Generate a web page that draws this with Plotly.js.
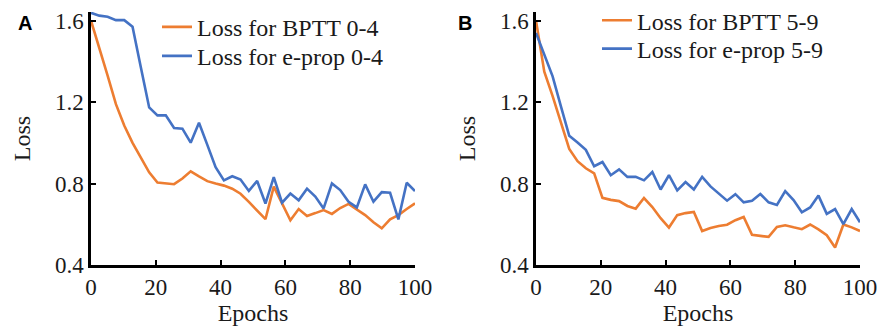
<!DOCTYPE html>
<html>
<head>
<meta charset="utf-8">
<script src="https://cdn.plot.ly/plotly-3.0.1.min.js"></script>
<style>html,body{margin:0;padding:0;background:#fff;}#chart{width:879px;height:334px;}</style>
</head>
<body>
<div id="chart"></div>
<script>
// Epoch values at which the losses were recorded (40 evaluation points, 0..100)
const epochs = [0, 2.56, 5.13, 7.69, 10.26, 12.82, 15.38, 17.95, 20.51, 23.08,
  25.64, 28.21, 30.77, 33.33, 35.90, 38.46, 41.03, 43.59, 46.15, 48.72,
  51.28, 53.85, 56.41, 58.97, 61.54, 64.10, 66.67, 69.23, 71.79, 74.36,
  76.92, 79.49, 82.05, 84.62, 87.18, 89.74, 92.31, 94.87, 97.44, 100];

// Panel A (digits 0-4)
const bpttA = [1.60, 1.47, 1.33, 1.19, 1.085, 1.00, 0.93, 0.855, 0.805, 0.80,
  0.797, 0.825, 0.86, 0.835, 0.812, 0.80, 0.79, 0.775, 0.75, 0.71,
  0.665, 0.625, 0.785, 0.70, 0.62, 0.675, 0.641, 0.655, 0.670, 0.651,
  0.68, 0.70, 0.673, 0.645, 0.61, 0.58, 0.624, 0.645, 0.675, 0.703];
const epropA = [1.639, 1.625, 1.620, 1.603, 1.603, 1.571, 1.372, 1.174, 1.135, 1.135,
  1.073, 1.070, 1.001, 1.099, 0.99, 0.881, 0.816, 0.836, 0.820, 0.764,
  0.813, 0.702, 0.832, 0.706, 0.751, 0.718, 0.775, 0.736, 0.678, 0.801,
  0.768, 0.711, 0.683, 0.796, 0.711, 0.758, 0.755, 0.624, 0.804, 0.763];

// Panel B (digits 5-9)
const bpttB = [1.60, 1.35, 1.23, 1.10, 0.97, 0.91, 0.875, 0.85, 0.73, 0.72,
  0.714, 0.69, 0.677, 0.729, 0.685, 0.63, 0.584, 0.645, 0.655, 0.661,
  0.567, 0.582, 0.592, 0.598, 0.62, 0.636, 0.548, 0.543, 0.538, 0.587,
  0.595, 0.585, 0.576, 0.599, 0.575, 0.546, 0.486, 0.599, 0.585, 0.567];
const epropB = [1.54, 1.433, 1.327, 1.179, 1.035, 1.002, 0.966, 0.885, 0.906, 0.841,
  0.870, 0.833, 0.833, 0.816, 0.857, 0.771, 0.841, 0.767, 0.808, 0.771,
  0.833, 0.786, 0.752, 0.716, 0.748, 0.708, 0.716, 0.749, 0.708, 0.695,
  0.763, 0.719, 0.659, 0.683, 0.741, 0.651, 0.675, 0.601, 0.675, 0.610];

const names = ['Loss for BPTT 0-4', 'Loss for e-prop 0-4', 'Loss for BPTT 5-9', 'Loss for e-prop 5-9'];
const yTicks = [0.4, 0.8, 1.2, 1.6];
const xTicks = [0, 20, 40, 60, 80, 100];

const ORANGE = '#ED7D31', BLUE = '#4472C4';
const SERIF = 'Liberation Serif, Times New Roman, serif';
const SANS = 'Liberation Sans, Arial, sans-serif';
const TXT = '#1a1a1a';

const traces = [
  {x: epochs, y: bpttA, name: names[0], xaxis: 'x', yaxis: 'y', legend: 'legend', line: {color: ORANGE, width: 2.6}},
  {x: epochs, y: epropA, name: names[1], xaxis: 'x', yaxis: 'y', legend: 'legend2', line: {color: BLUE, width: 2.6}},
  {x: epochs, y: bpttB, name: names[2], xaxis: 'x2', yaxis: 'y2', legend: 'legend3', line: {color: ORANGE, width: 2.6}},
  {x: epochs, y: epropB, name: names[3], xaxis: 'x2', yaxis: 'y2', legend: 'legend4', line: {color: BLUE, width: 2.6}}
].map(t => Object.assign({type: 'scatter', mode: 'lines', showlegend: true}, t));

const W = 879, H = 334, ML = 91, MR = 19, MT = 12, MB = 69;
const PW = W - ML - MR, PH = H - MT - MB;
const px = v => (v - ML) / PW;
const py = v => 1 - (v - MT) / PH;

function xa(domain, anchor) {
  return {domain: domain, anchor: anchor, range: [0, 100], tickvals: xTicks,
    showline: true, linecolor: '#000', linewidth: 2.6, ticks: 'inside', ticklen: 5, tickwidth: 2, tickcolor: '#000',
    showgrid: false, zeroline: false, tickfont: {family: SERIF, size: 23, color: TXT},
    title: {text: 'Epochs', font: {family: SERIF, size: 24, color: TXT}, standoff: 2}};
}
function ya(anchor) {
  return {domain: [0, 1], anchor: anchor, range: [0.4, 1.643], tickvals: yTicks, tickformat: '.1f',
    showline: true, linecolor: '#000', linewidth: 2.6, ticks: 'inside', ticklen: 5, tickwidth: 2, tickcolor: '#000',
    showgrid: false, zeroline: false, tickfont: {family: SERIF, size: 23, color: TXT},
    title: {text: 'Loss', font: {family: SERIF, size: 24, color: TXT}, standoff: 18}};
}
function leg(xp, yp) {
  return {x: px(xp), y: py(yp), xanchor: 'left', yanchor: 'middle', bgcolor: 'rgba(0,0,0,0)',
    font: {family: SERIF, size: 24, color: TXT}, borderwidth: 0};
}

const layout = {
  width: W, height: H, margin: {l: ML, r: MR, t: MT, b: MB, autoexpand: false},
  font: {family: SERIF, size: 24, color: TXT},
  paper_bgcolor: '#fff', plot_bgcolor: '#fff',
  xaxis: xa([0, px(415)], 'y'),
  yaxis: ya('x'),
  xaxis2: xa([px(536), 1], 'y2'),
  yaxis2: ya('x2'),
  legend: leg(157, 27.3),
  legend2: leg(157, 56.3),
  legend3: leg(597, 20.7),
  legend4: leg(597, 49),
  annotations: [
    {text: '<b>A</b>', xref: 'paper', yref: 'paper', x: px(24.5), y: py(23), xanchor: 'center', yanchor: 'middle',
      showarrow: false, font: {family: SANS, size: 20, color: '#000'}},
    {text: '<b>B</b>', xref: 'paper', yref: 'paper', x: px(464.5), y: py(23), xanchor: 'center', yanchor: 'middle',
      showarrow: false, font: {family: SANS, size: 20, color: '#000'}}
  ]
};

Plotly.newPlot('chart', traces, layout, {staticPlot: true, displayModeBar: false});
</script>
</body>
</html>
